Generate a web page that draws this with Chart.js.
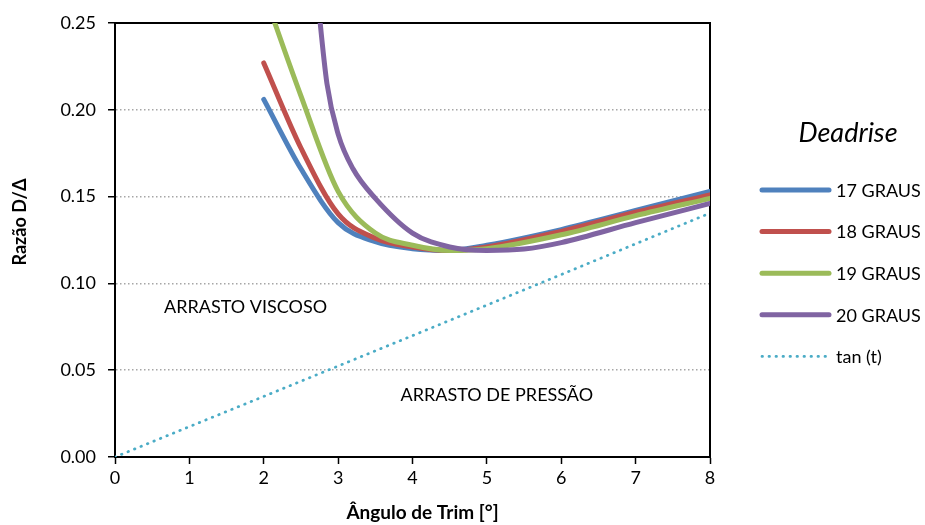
<!DOCTYPE html>
<html><head><meta charset="utf-8">
<script src="https://cdn.jsdelivr.net/npm/chart.js@4/dist/chart.umd.min.js"></script>
<style>html,body{margin:0;padding:0;background:#fff}#c{display:block}</style>
</head><body>
<canvas id="c" width="925" height="525"></canvas>
<script>
// ---- data ----
const seriesNames = ['17 GRAUS', '18 GRAUS', '19 GRAUS', '20 GRAUS', 'tan (t)'];
const trim17 = [2, 2.5, 3, 3.5, 4, 4.5, 5, 6, 7, 8];
const ratio17 = [0.206, 0.166, 0.135, 0.124, 0.120, 0.119, 0.122, 0.131, 0.142, 0.153];
const trim18 = [2, 2.5, 3, 3.5, 4, 4.5, 5, 6, 7, 8];
const ratio18 = [0.227, 0.178, 0.140, 0.126, 0.121, 0.119, 0.121, 0.130, 0.141, 0.151];
const trim19 = [2, 2.5, 3, 3.5, 4, 4.5, 5, 6, 7, 8];
const ratio19 = [0.268, 0.208, 0.153, 0.129, 0.122, 0.119, 0.120, 0.128, 0.139, 0.149];
const trim20 = [2.7, 2.85, 3, 3.2, 3.5, 4, 4.5, 5, 5.5, 6, 7, 8];
const ratio20 = [0.275, 0.215, 0.186, 0.166, 0.149, 0.129, 0.121, 0.119, 0.1198, 0.1235, 0.135, 0.146];
const trimTan = [0, 1, 2, 3, 4, 5, 6, 7, 8];
const tanValues = [0, 0.0175, 0.0349, 0.0524, 0.0699, 0.0875, 0.1051, 0.1228, 0.1405];
const xTicks = [0, 1, 2, 3, 4, 5, 6, 7, 8];
const yTicks = [0, 0.05, 0.10, 0.15, 0.20, 0.25];
const xTitle = 'Ângulo de Trim [°]';
const yTitle = 'Razão D/Δ';
const legendTitle = 'Deadrise';
const annotations = [
  {text: 'ARRASTO VISCOSO', x: 0.66, y: 0.0864},
  {text: 'ARRASTO DE PRESSÃO', x: 3.84, y: 0.0357}
];

const FONT = 'Lato, "Open Sans", sans-serif';
const pts = (xs, ys) => xs.map((x, i) => ({x, y: ys[i]}));
const colors = ['#4F81BD', '#C0504D', '#9BBB59', '#8064A2', '#4BACC6'];
const mainStyle = (i) => ({borderColor: colors[i], backgroundColor: colors[i], borderWidth: 5,
  borderCapStyle: 'round', borderJoinStyle: 'round', cubicInterpolationMode: 'monotone',
  pointRadius: 0, fill: false, order: 4 - i});

const datasets = [
  {label: seriesNames[0], data: pts(trim17, ratio17), ...mainStyle(0)},
  {label: seriesNames[1], data: pts(trim18, ratio18), ...mainStyle(1)},
  {label: seriesNames[2], data: pts(trim19, ratio19), ...mainStyle(2)},
  {label: seriesNames[3], data: pts(trim20, ratio20), ...mainStyle(3)},
  {label: seriesNames[4], data: pts(trimTan, tanValues), borderColor: colors[4], backgroundColor: colors[4],
   borderWidth: 2.75, borderDash: [0.5, 6.5], borderCapStyle: 'round', pointRadius: 0, fill: false, order: 5}
];

const boxPlugin = {
  id: 'box',
  beforeDatasetsDraw(chart) {
    const {ctx, chartArea: a} = chart;
    ctx.save();
    ctx.strokeStyle = '#000'; ctx.lineWidth = 2;
    ctx.beginPath();
    ctx.moveTo(a.left, a.top); ctx.lineTo(a.right, a.top); ctx.lineTo(a.right, a.bottom);
    ctx.stroke();
    ctx.restore();
  }
};

const extrasPlugin = {
  id: 'extras',
  afterDraw(chart) {
    const ctx = chart.ctx;
    const a = chart.chartArea;
    const xs = chart.scales.x, ys = chart.scales.y;
    ctx.save();
    ctx.fillStyle = '#000';
    ctx.textBaseline = 'middle';
    // axis titles
    ctx.textAlign = 'center';
    ctx.font = 'bold 19px ' + FONT;
    ctx.fillText(xTitle, (a.left + a.right) / 2 + 10, 513);
    ctx.save();
    ctx.translate(20, (a.top + a.bottom) / 2 - 18);
    ctx.rotate(-Math.PI / 2);
    ctx.font = 'bold 18px ' + FONT;
    ctx.fillText(yTitle, 0, 0);
    ctx.restore();
    // annotations
    ctx.textAlign = 'left';
    ctx.font = '18px ' + FONT;
    annotations.forEach(t => ctx.fillText(t.text, xs.getPixelForValue(t.x), ys.getPixelForValue(t.y)));
    // legend
    ctx.textAlign = 'center';
    ctx.font = 'italic 27px ' + FONT;
    ctx.fillText(legendTitle, 848, 133);
    ctx.textAlign = 'left';
    ctx.font = '18px ' + FONT;
    chart.data.datasets.forEach((ds, i) => {
      const y = 190 + i * 41.6;
      ctx.save();
      ctx.strokeStyle = ds.borderColor;
      ctx.lineWidth = ds.borderWidth;
      ctx.lineCap = ds.borderCapStyle || 'round';
      ctx.setLineDash(ds.borderDash || []);
      ctx.beginPath(); ctx.moveTo(762, y); ctx.lineTo(829, y); ctx.stroke();
      ctx.restore();
      ctx.fillText(ds.label, 836, y + 1);
    });
    ctx.restore();
  }
};

new Chart(document.getElementById('c'), {
  type: 'line',
  data: {datasets},
  plugins: [boxPlugin, extrasPlugin],
  options: {
    responsive: false, animation: false,
    layout: {padding: {top: 23, right: 215, left: 0, bottom: 0}},
    plugins: {legend: {display: false}, tooltip: {enabled: false}},
    scales: {
      x: {
        type: 'linear', min: 0, max: 8,
        afterBuildTicks(s) { s.ticks = xTicks.map(v => ({value: v})); },
        ticks: {color: '#000', font: {family: FONT, size: 18}, padding: 3, maxRotation: 0},
        grid: {drawOnChartArea: false, tickLength: 7, tickColor: '#000', tickWidth: 1.5},
        border: {color: '#000', width: 2},
        afterFit(s) { s.height = 68; }
      },
      y: {
        type: 'linear', min: 0, max: 0.25,
        afterBuildTicks(s) { s.ticks = yTicks.map(v => ({value: v})); },
        ticks: {color: '#000', font: {family: FONT, size: 18}, padding: 12, callback: v => v.toFixed(2)},
        grid: {color: '#A6A6A6', lineWidth: 1.5, tickLength: 7, tickColor: '#000', tickWidth: 1.5},
        border: {color: '#000', width: 2, dash: [1.5, 2.5]},
        afterFit(s) { s.width = 115; }
      }
    }
  }
});
</script>
</body></html>
